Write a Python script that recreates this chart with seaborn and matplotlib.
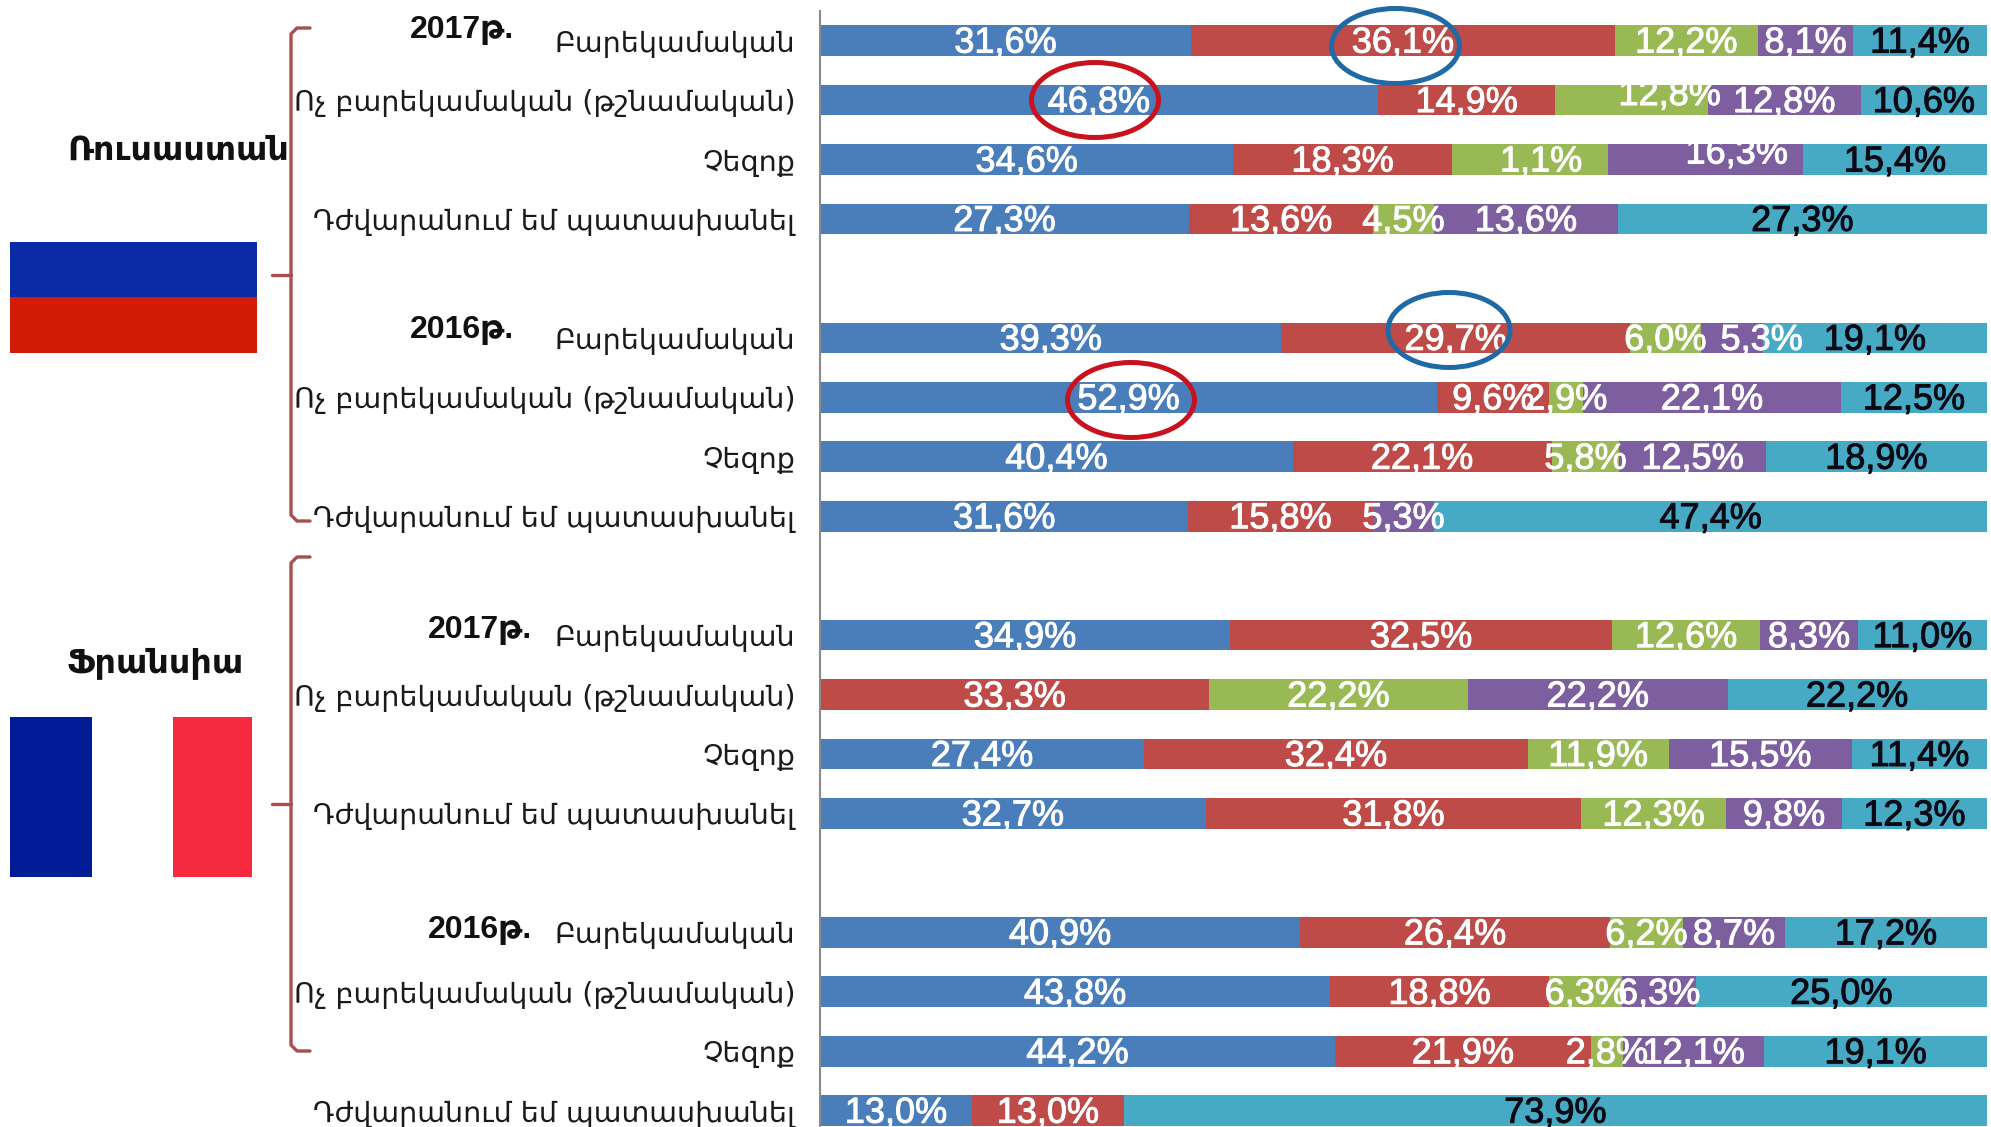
import numpy as np
import pandas as pd
import seaborn as sns
import matplotlib
matplotlib.use("Agg")
import matplotlib.pyplot as plt
import matplotlib.patheffects as pe
from matplotlib.patches import Rectangle, Ellipse
from matplotlib.lines import Line2D

W, H = 1991, 1127
sns.set_theme(style="white")
plt.rcParams["font.family"] = ["Liberation Sans", "DejaVu Sans"]

answers = ["Բարեկամական", "Ոչ բարեկամական (թշնամական)", "Չեզոք", "Դժվարանում եմ պատասխանել"]
series = ["s1", "s2", "s3", "s4", "s5"]
colors = ["#4a7ebb", "#be4b48", "#98b954", "#7d5fa0", "#46aac5"]
text_colors = ["white", "white", "white", "white", "#0a0a14"]

s1 = [31.6, 46.8, 34.6, 27.3, 39.3, 52.9, 40.4, 31.6, 34.9, 0.0, 27.4, 32.7, 40.9, 43.8, 44.2, 13.0]
s2 = [36.1, 14.9, 18.3, 13.6, 29.7, 9.6, 22.1, 15.8, 32.5, 33.3, 32.4, 31.8, 26.4, 18.8, 21.9, 13.0]
s3 = [12.2, 12.8, 13.1, 4.5, 6.0, 2.9, 5.8, 0.0, 12.6, 22.2, 11.9, 12.3, 6.2, 6.3, 2.8, 0.0]
s4 = [8.1, 12.8, 16.3, 13.6, 5.3, 22.1, 12.5, 5.3, 8.3, 22.2, 15.5, 9.8, 8.7, 6.3, 12.1, 0.0]
s5 = [11.4, 10.6, 15.4, 27.3, 19.1, 12.5, 18.9, 47.4, 11.0, 22.2, 11.4, 12.3, 17.2, 25.0, 19.1, 73.9]
values = np.array([s1, s2, s3, s4, s5], dtype=float)

# printed text that differs from the drawn width in the source image
label_override = {(2, 2): "1,1%"}
# hand placement of a few labels in the source (row, series): (dx px, dy px up)
nudge = {(1, 2): (38, 7), (2, 3): (31, 8), (2, 2): (11, 0), (4, 3): (30, 0)}

n = len(s1)
rows = np.arange(n) + np.arange(n) // 4
row0_px, row_step_px = 40.6, 59.45

fig = plt.figure(figsize=(W / 100, H / 100), dpi=100, facecolor="white")
ax = fig.add_axes([820 / W, 0, (1987 - 820) / W, 1])

df = pd.DataFrame({
    "row": np.tile(rows, 5),
    "value": values.ravel(),
    "series": np.repeat(series, n),
})
sns.histplot(
    data=df, y="row", weights="value", hue="series",
    hue_order=series[::-1], palette=dict(zip(series, colors)),
    multiple="fill", discrete=True, shrink=0.516,
    linewidth=0, alpha=1, legend=False, ax=ax,
)
ax.set_xlim(0, 1)
ax.set_ylim((H - row0_px) / row_step_px, -row0_px / row_step_px)
ax.set_xlabel("")
ax.set_ylabel("")
ax.set_xticks([])
ax.set_yticks(rows)
ax.set_yticklabels([answers[i % 4] for i in range(n)], family="DejaVu Sans",
                   fontsize=20.5, color="#1a1a1a")
ax.tick_params(axis="y", length=0, pad=18, left=False)
ax.patch.set_alpha(0)
for side in ("top", "right", "bottom"):
    ax.spines[side].set_visible(False)
ax.spines["left"].set_color("#8a8a8a")
ax.spines["left"].set_linewidth(1.5)
ax.spines["left"].set_bounds(-0.5, (H - row0_px) / row_step_px)

# value labels
totals = values.sum(axis=0)
starts = np.vstack([np.zeros(n), np.cumsum(values, axis=0)[:-1]])
for j in range(5):
    for i in range(n):
        v = values[j, i]
        if v == 0:
            continue
        txt = label_override.get((i, j), f"{v:.1f}".replace(".", ",") + "%")
        dx, dy = nudge.get((i, j), (0, 0))
        t = ax.annotate(txt, ((starts[j, i] + v / 2) / totals[i], rows[i]),
                        xytext=(dx * 0.72, (dy - 2.5) * 0.72), textcoords="offset points",
                        ha="center", va="center", fontsize=26, color=text_colors[j],
                        family="Liberation Sans", zorder=5, clip_on=False)
        t.set_path_effects([pe.withStroke(linewidth=0.7, foreground=text_colors[j])])


def px_rect(x0, y0, x1, y1, color):
    fig.add_artist(Rectangle((x0 / W, 1 - y1 / H), (x1 - x0) / W, (y1 - y0) / H,
                             transform=fig.transFigure, facecolor=color, edgecolor="none"))


def px_line(xs, ys, color="#a5504f", lw=2.4):
    fig.add_artist(Line2D([x / W for x in xs], [1 - y / H for y in ys],
                          transform=fig.transFigure, color=color, lw=lw,
                          solid_joinstyle="round"))


def px_text(x, y, s, size, ha="left"):
    fig.text(x / W, 1 - y / H, s, fontsize=size, fontweight="bold", ha=ha, va="center",
             color="#111111", family=["Liberation Sans", "DejaVu Sans"])


def px_circle(x, y, w, h, color):
    fig.add_artist(Ellipse((x / W, 1 - y / H), w / W, h / H, transform=fig.transFigure,
                           facecolor="none", edgecolor=color, lw=3.6, zorder=10))


# flags
px_rect(10, 242, 257, 297, "#0b2ba6")
px_rect(10, 297, 257, 353, "#d21c06")
px_rect(10, 717, 92, 877, "#021b96")
px_rect(173, 717, 252, 877, "#f52a40")

# braces
px_line([310, 297, 291, 291, 297, 310], [28, 28, 34, 515, 521, 521])
px_line([272, 291], [275, 275])
px_line([310, 297, 291, 291, 297, 310], [557, 557, 563, 1045, 1051, 1051])
px_line([272, 291], [804, 804])

# group captions
px_text(67, 151, "Ռուսաստան", 24)
px_text(67, 664, "Ֆրանսիա", 24)
px_text(410, 30, "2017թ.", 23)
px_text(410, 330, "2016թ.", 23)
px_text(428, 630, "2017թ.", 23)
px_text(428, 930, "2016թ.", 23)

# highlight rings
px_circle(1395.5, 46, 128, 75, "#1f6aa5")
px_circle(1449, 330, 122, 75, "#1f6aa5")
px_circle(1095, 100, 127, 75, "#c8131f")
px_circle(1131, 400, 127, 75, "#c8131f")

fig.savefig("out.png", dpi=100, facecolor="white")
